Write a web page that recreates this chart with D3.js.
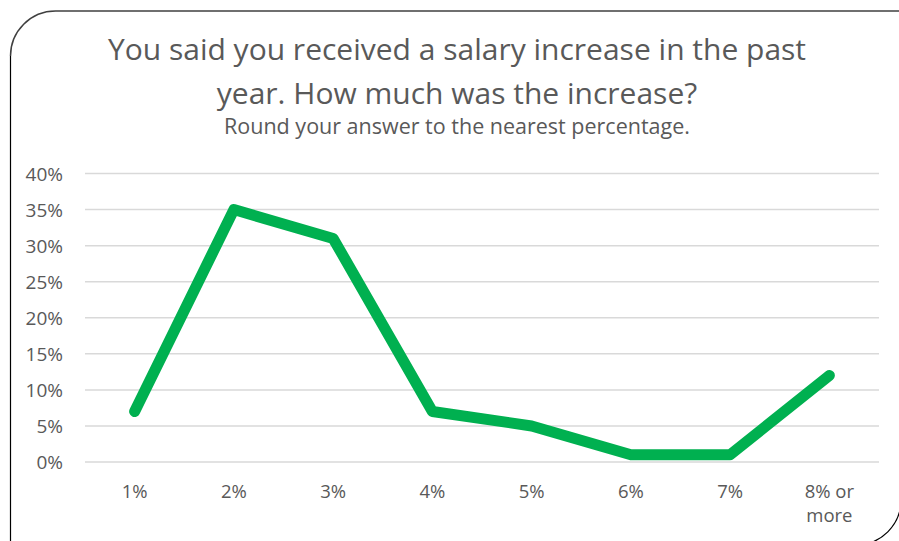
<!DOCTYPE html>
<html>
<head>
<meta charset="utf-8">
<script src="https://cdn.jsdelivr.net/npm/d3@7"></script>
<style>
  body { margin: 0; background: #fff; }
  text { font-family: "Open Sans", sans-serif; fill: #595959; }
</style>
</head>
<body>
<div id="chart"></div>
<script>
// data
var categories = ["1%", "2%", "3%", "4%", "5%", "6%", "7%", "8% or more"];
var values = [7, 35, 31, 7, 5, 1, 1, 12];
var yTicks = [0, 5, 10, 15, 20, 25, 30, 35, 40];

var W = 899, H = 541;

var svg = d3.select("#chart").append("svg")
  .attr("width", W)
  .attr("height", H);

// frame with rounded top-left and bottom-right corners
svg.append("path")
  .attr("d", "M901,500 A45,45 0 0 1 856,545 M10.5,56 L10.5,545")
  .attr("fill", "none")
  .attr("stroke", "#000")
  .attr("stroke-width", 1.2);
svg.append("path")
  .attr("d", "M10.5,56 A45,45 0 0 1 55.5,11 L905,11")
  .attr("fill", "none")
  .attr("stroke", "#404040")
  .attr("stroke-width", 1.5);

// title
svg.append("text")
  .attr("x", 457).attr("y", 60)
  .attr("text-anchor", "middle")
  .style("font-size", "30px")
  .text("You said you received a salary increase in the past");
svg.append("text")
  .attr("x", 457).attr("y", 104)
  .attr("text-anchor", "middle")
  .style("font-size", "30px")
  .text("year. How much was the increase?");
svg.append("text")
  .attr("x", 457).attr("y", 134)
  .attr("text-anchor", "middle")
  .style("font-size", "21.5px")
  .text("Round your answer to the nearest percentage.");

// scales
var x = d3.scaleBand()
  .domain(categories)
  .range([85, 879]);

var y = d3.scaleLinear()
  .domain([0, 40])
  .range([462, 173.5]);

// gridlines
svg.append("g")
  .selectAll("line")
  .data(yTicks)
  .enter()
  .append("line")
  .attr("x1", 85)
  .attr("x2", 879)
  .attr("y1", function (d) { return y(d); })
  .attr("y2", function (d) { return y(d); })
  .attr("stroke", "#d9d9d9")
  .attr("stroke-width", 1.5);

// y axis labels
svg.append("g")
  .selectAll("text")
  .data(yTicks)
  .enter()
  .append("text")
  .attr("x", 63)
  .attr("y", function (d) { return y(d) + 7; })
  .attr("text-anchor", "end")
  .style("font-size", "19px")
  .text(function (d) { return d + "%"; });

// x axis labels (wrap "8% or more")
var xLabels = svg.append("g")
  .selectAll("text")
  .data(categories)
  .enter()
  .append("text")
  .attr("x", function (d) { return x(d) + x.bandwidth() / 2; })
  .attr("y", 498)
  .attr("text-anchor", "middle")
  .style("font-size", "18.5px");

xLabels.each(function (d) {
  var parts = d == "8% or more" ? ["8% or", "more"] : [d];
  var t = d3.select(this);
  parts.forEach(function (p, i) {
    t.append("tspan")
      .attr("x", x(d) + x.bandwidth() / 2)
      .attr("dy", i == 0 ? 0 : 24)
      .text(p);
  });
});

// the line
var line = d3.line()
  .x(function (d, i) { return x(categories[i]) + x.bandwidth() / 2; })
  .y(function (d) { return y(d); });

svg.append("path")
  .datum(values)
  .attr("d", line)
  .attr("fill", "none")
  .attr("stroke", "#00b050")
  .attr("stroke-width", 11)
  .attr("stroke-linejoin", "round")
  .attr("stroke-linecap", "round");
</script>
</body>
</html>
